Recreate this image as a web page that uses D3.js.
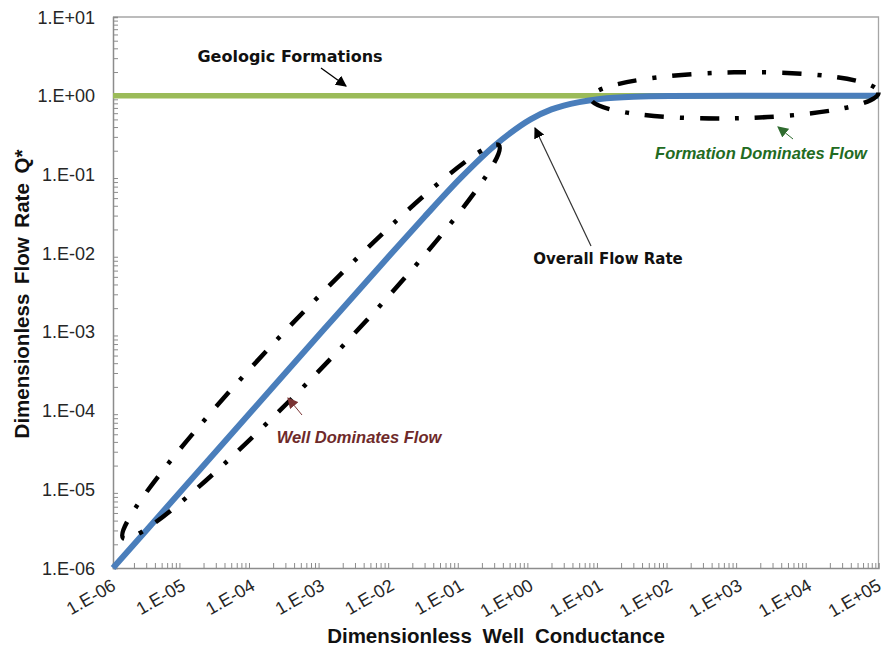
<!DOCTYPE html>
<html>
<head>
<meta charset="utf-8">
<script src="https://cdn.jsdelivr.net/npm/d3@7"></script>
<style>
  html, body { margin: 0; padding: 0; background: #fff; }
  svg { display: block; }
</style>
</head>
<body>
<svg id="chart" width="886" height="656"></svg>
<script>
// Dimensionless well conductance (x) and overall flow rate Q* (y)
const conductance = [1e-6, 1e-5, 1e-4, 1e-3, 1e-2, 3e-2, 1e-1, 0.3, 0.5, 1, 2, 3, 5, 10, 30, 100, 1e3, 1e4, 1e5];
const flowRate    = [1e-6, 1e-5, 1e-4, 1e-3, 0.0099, 0.029, 0.091, 0.23, 0.33, 0.5, 0.67, 0.75, 0.83, 0.91, 0.97, 0.99, 0.999, 1, 1];

// Geologic formation limit (Q* = 1 across the whole range)
const formationX = [1e-6, 1e5];
const formationY = [1, 1];

// Axis tick labels (one per decade)
const xTickLabels = ["1.E-06", "1.E-05", "1.E-04", "1.E-03", "1.E-02", "1.E-01", "1.E+00", "1.E+01", "1.E+02", "1.E+03", "1.E+04", "1.E+05"];
const yTickLabels = ["1.E-06", "1.E-05", "1.E-04", "1.E-03", "1.E-02", "1.E-01", "1.E+00", "1.E+01"];

// Regions circled on the chart: end points in data units
const wellRegion      = [[1.4e-6, 2.4e-6], [0.35, 0.235]];
const formationRegion = [[7.3, 0.93], [1e5, 1.1]];

const svg = d3.select("#chart");
const plotLeft = 113, plotRight = 878.5, plotTop = 17, plotBottom = 568;

const x = d3.scaleLog().domain([1e-6, 1e5]).range([plotLeft, plotRight]);
const y = d3.scaleLog().domain([1e-6, 1e1]).range([plotBottom, plotTop]);

const axisColor = "#8c8c8c";
const tickFont = "'Liberation Sans', Arial, sans-serif";

// Frame: top and right borders
svg.append("path")
  .attr("d", `M${plotLeft},${plotTop}H${plotRight}V${plotBottom}`)
  .attr("fill", "none").attr("stroke", "#a6a6a6").attr("stroke-width", 1.3);

// Minor ticks (2..9 within each decade)
function minorTicks(lo, hi) {
  const out = [];
  for (let e = lo; e < hi; e++) for (let m = 2; m <= 9; m++) out.push(m * Math.pow(10, e));
  return out;
}

// X axis
const xAxis = d3.axisBottom(x).tickValues(minorTicks(-6, 5)).tickSize(-5).tickFormat("");
const gx = svg.append("g").attr("transform", `translate(0,${plotBottom})`).call(xAxis);
gx.select(".domain").attr("stroke", axisColor).attr("stroke-width", 1.5);
gx.selectAll(".tick line").attr("stroke", axisColor).attr("stroke-width", 1);

// Y axis
const yAxis = d3.axisLeft(y).tickValues(minorTicks(-6, 1)).tickSize(-5).tickFormat("");
const gy = svg.append("g").attr("transform", `translate(${plotLeft},0)`).call(yAxis);
gy.select(".domain").attr("stroke", axisColor).attr("stroke-width", 1.5);
gy.selectAll(".tick line").attr("stroke", axisColor).attr("stroke-width", 1);

// Decade labels on x (rotated)
const xDecades = d3.range(-6, 6).map(e => Math.pow(10, e));
svg.append("g").selectAll("text").data(xDecades).join("text")
  .attr("transform", (d) => `translate(${x(d) + 4},${plotBottom + 21}) rotate(-30)`)
  .attr("text-anchor", "end")
  .attr("font-family", tickFont).attr("font-size", 18).attr("fill", "#262626")
  .text((d, i) => xTickLabels[i]);

// Decade labels on y
const yDecades = d3.range(-6, 2).map(e => Math.pow(10, e));
svg.append("g").selectAll("text").data(yDecades).join("text")
  .attr("x", plotLeft - 18).attr("y", d => y(d) + 6.5)
  .attr("text-anchor", "end")
  .attr("font-family", tickFont).attr("font-size", 18).attr("fill", "#262626")
  .text((d, i) => yTickLabels[i]);

// Axis titles
svg.append("text")
  .attr("x", 496).attr("y", 643).attr("text-anchor", "middle")
  .attr("font-family", tickFont).attr("font-weight", "bold").attr("font-size", 20.5)
  .attr("word-spacing", 5).attr("fill", "#111")
  .text("Dimensionless Well Conductance");
svg.append("text")
  .attr("transform", `translate(29,294) rotate(-90)`).attr("text-anchor", "middle")
  .attr("font-family", tickFont).attr("font-weight", "bold").attr("font-size", 20.5)
  .attr("word-spacing", 4).attr("fill", "#111")
  .text("Dimensionless Flow Rate Q*");

// Geologic formation line
const line = d3.line().x(d => x(d[0])).y(d => y(d[1]));
svg.append("path")
  .datum(formationX.map((v, i) => [v, formationY[i]]))
  .attr("d", line).attr("fill", "none").attr("stroke", "#9bbb59").attr("stroke-width", 5.5);

// Overall flow rate curve
svg.append("path")
  .datum(conductance.map((v, i) => [v, flowRate[i]]))
  .attr("d", line.curve(d3.curveMonotoneX))
  .attr("fill", "none").attr("stroke", "#4a7ebb").attr("stroke-width", 6);

// Dash-dot ellipses around the two flow regimes
function regionEllipse(ends, halfWidth) {
  const [p1, p2] = ends.map(p => [x(p[0]), y(p[1])]);
  const cx = (p1[0] + p2[0]) / 2, cy = (p1[1] + p2[1]) / 2;
  const rx = Math.hypot(p2[0] - p1[0], p2[1] - p1[1]) / 2;
  const ang = Math.atan2(p2[1] - p1[1], p2[0] - p1[0]) * 180 / Math.PI;
  svg.append("ellipse")
    .attr("cx", 0).attr("cy", 0).attr("rx", rx).attr("ry", halfWidth)
    .attr("transform", `translate(${cx},${cy}) rotate(${ang})`)
    .attr("fill", "none").attr("stroke", "#000").attr("stroke-width", 4.5)
    .attr("stroke-dasharray", "19 16 4 16");
}
regionEllipse(wellRegion, 26);
regionEllipse(formationRegion, 23);

// Annotations with arrows
const defs = svg.append("defs");
function marker(id, color) {
  defs.append("marker").attr("id", id)
    .attr("viewBox", "0 0 10 10").attr("refX", 9).attr("refY", 5)
    .attr("markerWidth", 11).attr("markerHeight", 11).attr("orient", "auto")
    .attr("markerUnits", "userSpaceOnUse")
    .append("path").attr("d", "M0,0L10,5L0,10z").attr("fill", color);
}
marker("arrBlack", "#000");
marker("arrGreen", "#2f6b2f");
marker("arrRed", "#7a3434");

function arrow(x1, y1, x2, y2, color, id, w) {
  svg.append("line").attr("x1", x1).attr("y1", y1).attr("x2", x2).attr("y2", y2)
    .attr("stroke", color).attr("stroke-width", w).attr("marker-end", `url(#${id})`);
}

const noteFont = "Tahoma, 'DejaVu Sans', Verdana, sans-serif";
svg.append("text").attr("x", 290).attr("y", 62).attr("text-anchor", "middle")
  .attr("font-family", noteFont).attr("font-weight", "bold").attr("font-size", 16)
  .attr("fill", "#111").text("Geologic Formations");
arrow(321, 68, 346, 86, "#000", "arrBlack", 1.3);

svg.append("text").attr("x", 608).attr("y", 264).attr("text-anchor", "middle")
  .attr("font-family", noteFont).attr("font-weight", "bold").attr("font-size", 15)
  .attr("fill", "#111").text("Overall Flow Rate");
arrow(591, 246, 535, 128, "#333", "arrBlack", 1.2);

svg.append("text").attr("x", 761).attr("y", 159).attr("text-anchor", "middle")
  .attr("font-family", tickFont).attr("font-weight", "bold").attr("font-style", "italic")
  .attr("font-size", 16.5).attr("fill", "#226b22").text("Formation Dominates Flow");
arrow(793, 139, 778, 127, "#2f6b2f", "arrGreen", 1);

svg.append("text").attr("x", 359).attr("y", 443).attr("text-anchor", "middle")
  .attr("font-family", tickFont).attr("font-weight", "bold").attr("font-style", "italic")
  .attr("font-size", 16.5).attr("fill", "#6e2a2a").text("Well Dominates Flow");
arrow(302, 415, 288, 398, "#7a3434", "arrRed", 1);
</script>
</body>
</html>
